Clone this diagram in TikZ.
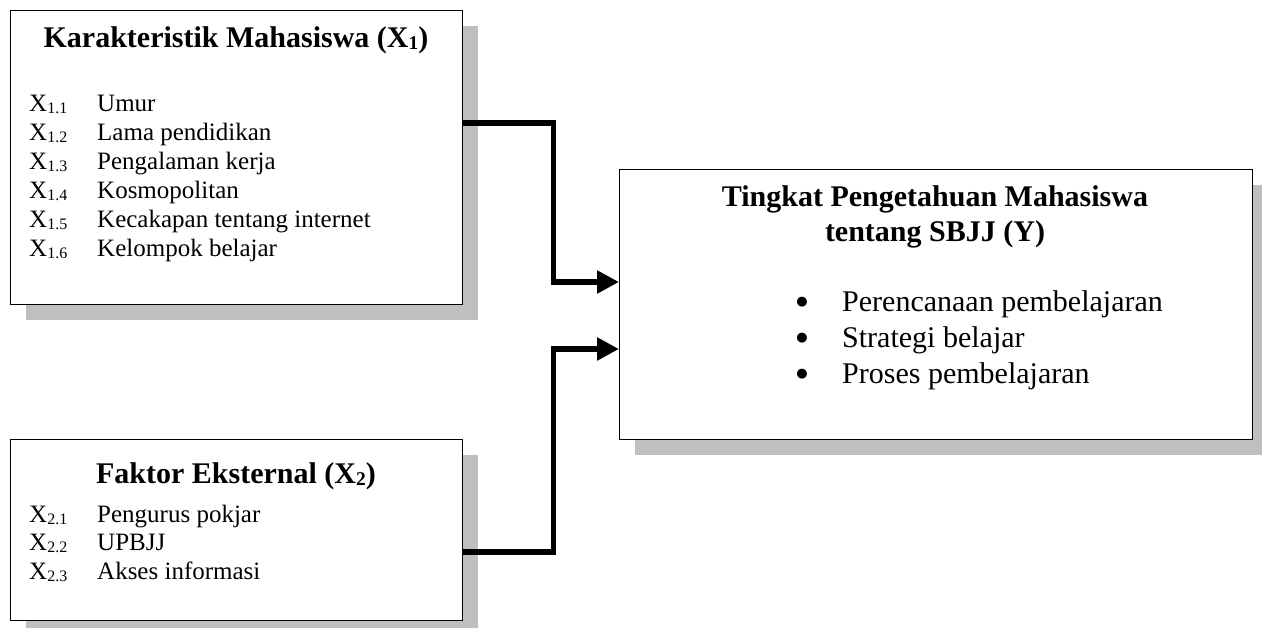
\documentclass[tikz,border=0pt]{standalone}
\usepackage{fontspec}
\setmainfont{Liberation Serif}
\newfontfamily\symfont{DejaVu Sans}
\usetikzlibrary{arrows.meta,shadows}
\newcommand{\Xb}[1]{X\raisebox{-2pt}{\fontsize{16}{16}\selectfont #1}}
\newcommand{\Xt}[1]{X\raisebox{-2pt}{\fontsize{19.5}{19.5}\selectfont\bfseries #1}}
\tikzset{
  box/.style={draw=black, line width=1.4pt, fill=white, inner sep=0pt, anchor=north west,
    drop shadow={shadow xshift=15pt, shadow yshift=-15pt, fill=gray!50, opacity=1}},
  conn/.style={line width=5.5pt, -{Triangle[length=22pt,width=22pt]}},
  ttl/.style={anchor=base, inner sep=0pt, font=\fontsize{30}{35}\selectfont\bfseries},
  lbl/.style={anchor=base west, inner sep=0pt, font=\fontsize{25}{29}\selectfont},
  lblY/.style={anchor=base west, inner sep=0pt, font=\fontsize{30}{36}\selectfont},
  bul/.style={anchor=center, inner sep=0pt, font=\symfont\fontsize{13}{13}\selectfont}
}
\begin{document}
\begin{tikzpicture}[x=1pt,y=-1pt]
\path[use as bounding box, clip] (0,0) rectangle (1262,628);
% boxes
\node[box, minimum width=452pt, minimum height=294pt] (b1) at (10,10) {};
\node[box, minimum width=452pt, minimum height=181pt] (b2) at (10,439) {};
\node[box, minimum width=633pt, minimum height=270pt] (by) at (619,169) {};
% box 1 text
\node[ttl] (t1) at (236,48) {Karakteristik Mahasiswa (\Xt{1})};
\foreach \i/\t [count=\k from 0] in {1/Umur,2/Lama pendidikan,3/Pengalaman kerja,4/Kosmopolitan,5/Kecakapan tentang internet,6/Kelompok belajar}{
  \node[lbl] (x1\i) at (29,112+29*\k) {\Xb{1.\i}};
  \node[lbl] (l1\i) at (97,112+29*\k) {\t};
}
% box 2 text
\node[ttl] (t2) at (236,483) {Faktor Eksternal (\Xt{2})};
\foreach \i/\t [count=\k from 0] in {1/Pengurus pokjar,2/UPBJJ,3/Akses informasi}{
  \node[lbl] (x2\i) at (29,522+28.5*\k) {\Xb{2.\i}};
  \node[lbl] (l2\i) at (97,522+28.5*\k) {\t};
}
% box Y text
\node[ttl] (ty1) at (935,207) {Tingkat Pengetahuan Mahasiswa};
\node[ttl] (ty2) at (935,242) {tentang SBJJ (Y)};
\foreach \t [count=\k from 0] in {Perencanaan pembelajaran,Strategi belajar,Proses pembelajaran}{
  \node[bul] (bu\k) at (802,302+36*\k) {●};
  \node[lblY] (ly\k) at (842,312+36*\k) {\t};
}
% connectors
\draw[conn] ([yshift=-113pt]b1.north east) -- ++(90,0) |- ([yshift=-113pt]by.north west);
\draw[conn] ([yshift=-113pt]b2.north east) -- ++(90,0) |- ([yshift=-180pt]by.north west);
\end{tikzpicture}
\end{document}
